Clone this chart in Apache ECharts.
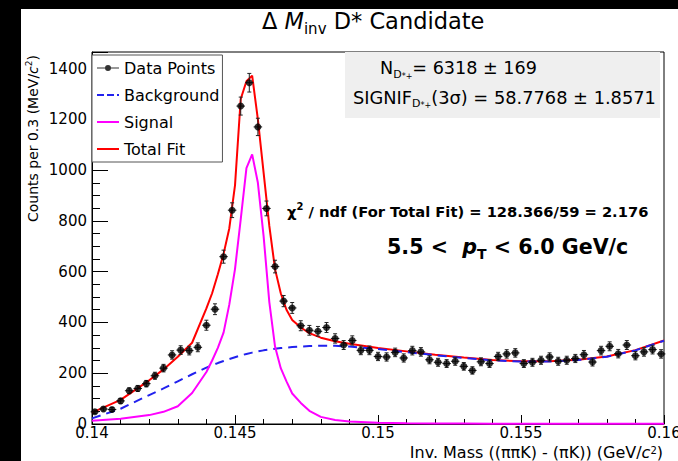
<!DOCTYPE html>
<html>
<head>
<meta charset="utf-8">
<script src="https://cdn.jsdelivr.net/npm/echarts@6.0.0/dist/echarts.min.js"></script>
<style>
  html, body { margin: 0; padding: 0; background: #fff; }
  #chart { width: 678px; height: 461px; }
</style>
</head>
<body>
<div id="chart"></div>
<script>
const FONT = 'DejaVu Sans';

// Histogram: bin centres (GeV/c^2), bin width 0.3 MeV/c^2
const binCenters = [
  0.1401, 0.1404, 0.1407, 0.1410, 0.1413, 0.1416, 0.1419, 0.1422, 0.1425, 0.1428,
  0.1431, 0.1434, 0.1437, 0.1440, 0.1443, 0.1446, 0.1449, 0.1452, 0.1455, 0.1458,
  0.1461, 0.1464, 0.1467, 0.1470, 0.1473, 0.1476, 0.1479, 0.1482, 0.1485, 0.1488,
  0.1491, 0.1494, 0.1497, 0.1500, 0.1503, 0.1506, 0.1509, 0.1512, 0.1515, 0.1518,
  0.1521, 0.1524, 0.1527, 0.1530, 0.1533, 0.1536, 0.1539, 0.1542, 0.1545, 0.1548,
  0.1551, 0.1554, 0.1557, 0.1560, 0.1563, 0.1566, 0.1569, 0.1572, 0.1575, 0.1578,
  0.1581, 0.1584, 0.1587, 0.1590, 0.1593, 0.1596, 0.1599
];
const binHalfWidth = 0.00015;

// Entries per bin
const counts = [
  48, 59, 57, 91, 131, 140, 159, 190, 220, 272,
  291, 289, 302, 389, 452, 659, 842, 1252, 1344, 1170,
  849, 620, 484, 457, 387, 369, 365, 380, 337, 311,
  329, 290, 290, 266, 264, 282, 260, 289, 284, 253,
  243, 238, 247, 227, 211, 245, 238, 266, 276, 280,
  238, 243, 251, 264, 247, 251, 258, 273, 244, 289,
  306, 277, 311, 269, 284, 293, 276
];

// Fit functions evaluated along the mass axis
const fitX = [
  0.1400, 0.1410, 0.1420, 0.1425, 0.1430, 0.1435, 0.1440, 0.1442, 0.1444, 0.1446,
  0.1448, 0.1450, 0.1452, 0.1454, 0.1456, 0.1458, 0.1460, 0.1462, 0.1464, 0.1466,
  0.1468, 0.1470, 0.1473, 0.1476, 0.1480, 0.1485, 0.1490, 0.1500, 0.1510, 0.1520,
  0.1530, 0.1540, 0.1550, 0.1560, 0.1570, 0.1580, 0.1590, 0.1600
];
const bgFit = [
  22, 60, 114, 140, 168, 196, 222, 231, 240, 248,
  256, 263, 270, 276, 281, 286, 290, 293, 296, 299,
  301, 303, 305, 307, 308, 308, 305, 295, 283, 271,
  260, 251, 246, 246, 252, 265, 290, 328
];
const sigFit = [
  13, 21, 35, 48, 70, 122, 205, 250, 300, 360,
  470, 610, 806, 1008, 1062, 950, 740, 480, 305, 220,
  168, 120, 83, 52, 28, 16, 10, 5, 3, 2,
  2, 1, 1, 1, 1, 1, 1, 1
];
const totFit = [
  45, 95, 172, 215, 265, 320, 455, 515, 590, 670,
  770, 940, 1280, 1350, 1372, 1200, 990, 780, 610, 515,
  450, 410, 380, 358, 340, 326, 316, 299, 286, 273,
  262, 252, 247, 247, 253, 266, 291, 329
];

// Axis ranges and tick steps
const xMin = 0.14, xMax = 0.16, xStep = 0.005;
const yMin = 0, yMax = 1465, yStep = 200;

const zip = (xs, ys) => xs.map((x, i) => [x, ys[i]]);
const points = zip(binCenters, counts);

// Legend glyphs (22 x 12 box): marker on a line, dashed line, solid line
const ICON_POINT = 'path://M0,0 L0.01,0 Z M0,5.5 L8.5,5.5 L8.5,6.5 L0,6.5 Z M13.5,5.5 L22,5.5 L22,6.5 L13.5,6.5 Z M14,6 A3,3 0 1 1 8,6 A3,3 0 1 1 14,6 Z M22,12 L21.99,12 Z';
const ICON_DASH = 'path://M0,0 L0.01,0 Z M0,5 L7,5 L7,7 L0,7 Z M10,5 L17,5 L17,7 L10,7 Z M20,5 L22,5 L22,7 L20,7 Z M22,12 L21.99,12 Z';
const ICON_LINE = 'path://M0,0 L0.01,0 Z M0,5 L22,5 L22,7 L0,7 Z M22,12 L21.99,12 Z';

const chart = echarts.init(document.getElementById('chart'), null, { renderer: 'svg' });

const subStyle = (size, lh, va) => ({ fontFamily: FONT, fontSize: size, lineHeight: lh, verticalAlign: va, fill: '#000', color: '#000' });

chart.setOption({
  animation: false,
  backgroundColor: '#fff',
  title: [{
    text: 'Δ {m|M}{sub|inv} D* Candidate',
    left: 262, top: 6, padding: 0,
    textStyle: {
      fontFamily: FONT, fontSize: 22.5, fontWeight: 'normal', color: '#000', lineHeight: 30,
      rich: {
        m: { fontFamily: FONT, fontSize: 22.5, fontStyle: 'italic', lineHeight: 30, color: '#000' },
        sub: { fontFamily: FONT, fontSize: 15, lineHeight: 18, verticalAlign: 'bottom', color: '#000' }
      }
    }
  }],
  grid: {
    left: 92, right: 14, top: 52, bottom: 37,
    show: true, borderColor: '#000', borderWidth: 1, backgroundColor: 'transparent',
    containLabel: false, outerBoundsMode: 'none'
  },
  legend: {
    data: [
      { name: 'Data Points', icon: ICON_POINT },
      { name: 'Background', icon: ICON_DASH },
      { name: 'Signal', icon: ICON_LINE },
      { name: 'Total Fit', icon: ICON_LINE }
    ],
    orient: 'vertical', left: 92, top: 55,
    itemWidth: 22, itemHeight: 12, itemGap: 11,
    padding: [5, 3, 5, 5],
    backgroundColor: '#fff', borderColor: '#555', borderWidth: 1, borderRadius: 0,
    textStyle: { fontFamily: FONT, fontSize: 16, color: '#000' },
    selectedMode: false, z: 10
  },
  xAxis: {
    type: 'value', min: xMin, max: xMax, interval: xStep,
    axisLine: { show: true, onZero: false, lineStyle: { color: '#000', width: 1 } },
    axisTick: { show: true, inside: true, length: 9, lineStyle: { color: '#000', width: 1 } },
    minorTick: { show: true, splitNumber: 5, length: 5, lineStyle: { color: '#000', width: 1 } },
    splitLine: { show: false },
    axisLabel: {
      margin: 1, fontFamily: FONT, fontSize: 15, lineHeight: 15, color: '#000', hideOverlap: false,
      formatter: v => String(+v.toFixed(4))
    }
  },
  yAxis: {
    type: 'value', min: yMin, max: yMax, interval: yStep,
    axisLine: { show: true, onZero: false, lineStyle: { color: '#000', width: 1 } },
    axisTick: { show: true, inside: true, length: 16, lineStyle: { color: '#000', width: 1 } },
    minorTick: { show: true, splitNumber: 4, length: 8, lineStyle: { color: '#000', width: 1 } },
    splitLine: { show: false },
    axisLabel: {
      margin: 5, fontFamily: FONT, fontSize: 15, color: '#000', showMaxLabel: false,
      formatter: v => String(Math.round(v))
    }
  },
  series: [
    {
      name: 'Total Fit', type: 'line', data: zip(fitX, totFit),
      symbol: 'none', smooth: false, z: 2,
      lineStyle: { color: '#ff0000', width: 2 }, itemStyle: { color: '#ff0000' }
    },
    {
      name: 'Background', type: 'line', data: zip(fitX, bgFit),
      symbol: 'none', smooth: false, z: 3,
      lineStyle: { color: '#2222ee', width: 2, type: [9, 6] }, itemStyle: { color: '#2222ee' }
    },
    {
      name: 'Signal', type: 'line', data: zip(fitX, sigFit),
      symbol: 'none', smooth: false, z: 3,
      lineStyle: { color: '#ff00ff', width: 2 }, itemStyle: { color: '#ff00ff' }
    },
    {
      name: 'errors', type: 'custom', data: points, z: 4, silent: true,
      encode: { x: 0, y: 1 },
      renderItem(params, api) {
        const x = api.value(0), y = api.value(1), e = Math.sqrt(y);
        const c = api.coord([x, y]);
        const t = api.coord([x, y + e]);
        const b = api.coord([x, y - e]);
        const l = api.coord([x - binHalfWidth, y]);
        const r = api.coord([x + binHalfWidth, y]);
        const st = { stroke: '#222', lineWidth: 1 };
        const cap = 2;
        return {
          type: 'group',
          children: [
            { type: 'line', shape: { x1: c[0], y1: t[1], x2: c[0], y2: b[1] }, style: st },
            { type: 'line', shape: { x1: l[0], y1: c[1], x2: r[0], y2: c[1] }, style: st },
            { type: 'line', shape: { x1: c[0] - cap, y1: t[1], x2: c[0] + cap, y2: t[1] }, style: st },
            { type: 'line', shape: { x1: c[0] - cap, y1: b[1], x2: c[0] + cap, y2: b[1] }, style: st }
          ]
        };
      }
    },
    {
      name: 'Data Points', type: 'scatter', data: points,
      symbol: 'circle', symbolSize: 7, z: 5,
      itemStyle: { color: '#000' }
    }
  ],
  graphic: [
    // statistics box
    { type: 'rect', z: 20, shape: { x: 345, y: 52, width: 315, height: 66 }, style: { fill: '#efefef' } },
    {
      type: 'text', z: 21, x: 380, y: 68,
      style: {
        text: 'N{sub|D}{ss|*+}= 6318 ± 169',
        fontFamily: FONT, fontSize: 17.6, lineHeight: 24, fill: '#000',
        align: 'left', verticalAlign: 'middle', textAlign: 'left', textVerticalAlign: 'middle',
        rich: { sub: subStyle(11, 14, 'bottom'), ss: subStyle(8, 20, 'bottom') }
      }
    },
    {
      type: 'text', z: 21, x: 353, y: 97,
      style: {
        text: 'SIGNIF{sub|D}{ss|*+}(3σ) = 58.7768 ± 1.8571',
        fontFamily: FONT, fontSize: 17.8, lineHeight: 24, fill: '#000',
        align: 'left', verticalAlign: 'middle', textAlign: 'left', textVerticalAlign: 'middle',
        rich: { sub: subStyle(11, 14, 'bottom'), ss: subStyle(8, 20, 'bottom') }
      }
    },
    // fit quality
    {
      type: 'text', z: 21, x: 287, y: 211,
      style: {
        text: 'χ{sup|2} / ndf (For Total Fit) = 128.366/59 = 2.176',
        fontFamily: FONT, fontSize: 14.7, fontWeight: 'bold', lineHeight: 20, fill: '#000',
        align: 'left', verticalAlign: 'middle', textAlign: 'left', textVerticalAlign: 'middle',
        rich: { sup: Object.assign(subStyle(10, 12, 'top'), { fontWeight: 'bold' }) }
      }
    },
    // transverse momentum range
    {
      type: 'text', z: 21, x: 387, y: 247,
      style: {
        text: '5.5 <  {p|p}{sub|T} < 6.0 GeV/c',
        fontFamily: FONT, fontSize: 20.6, fontWeight: 'bold', lineHeight: 28, fill: '#000',
        align: 'left', verticalAlign: 'middle', textAlign: 'left', textVerticalAlign: 'middle',
        rich: {
          p: { fontFamily: FONT, fontSize: 20.6, fontWeight: 'bold', fontStyle: 'italic', lineHeight: 28, fill: '#000' },
          sub: Object.assign(subStyle(14, 18, 'bottom'), { fontWeight: 'bold' })
        }
      }
    },
    // axis titles
    {
      type: 'text', z: 21, x: 33, y: 55, rotation: Math.PI / 2,
      style: {
        text: 'Counts per 0.3 (MeV/{c|c}{sup|2})',
        fontFamily: FONT, fontSize: 14, lineHeight: 18, fill: '#000',
        align: 'right', verticalAlign: 'middle', textAlign: 'right', textVerticalAlign: 'middle',
        rich: {
          c: { fontFamily: FONT, fontSize: 14, fontStyle: 'italic', lineHeight: 18, fill: '#000' },
          sup: subStyle(9, 10, 'top')
        }
      }
    },
    {
      type: 'text', z: 21, x: 663, y: 452.5,
      style: {
        text: 'Inv. Mass ((ππK) - (πK)) (GeV/{c|c}{sup|2})',
        fontFamily: FONT, fontSize: 16, lineHeight: 14, fill: '#000',
        align: 'right', verticalAlign: 'middle', textAlign: 'right', textVerticalAlign: 'middle',
        rich: {
          c: { fontFamily: FONT, fontSize: 16, fontStyle: 'italic', lineHeight: 14, fill: '#000' },
          sup: subStyle(10, 11, 'top')
        }
      }
    },
    // dark margins of the canvas
    { type: 'rect', z: 30, shape: { x: 0, y: 0, width: 678, height: 9 }, style: { fill: '#000' } },
    { type: 'rect', z: 30, shape: { x: 0, y: 0, width: 21, height: 461 }, style: { fill: '#000' } }
  ]
});
</script>
</body>
</html>
